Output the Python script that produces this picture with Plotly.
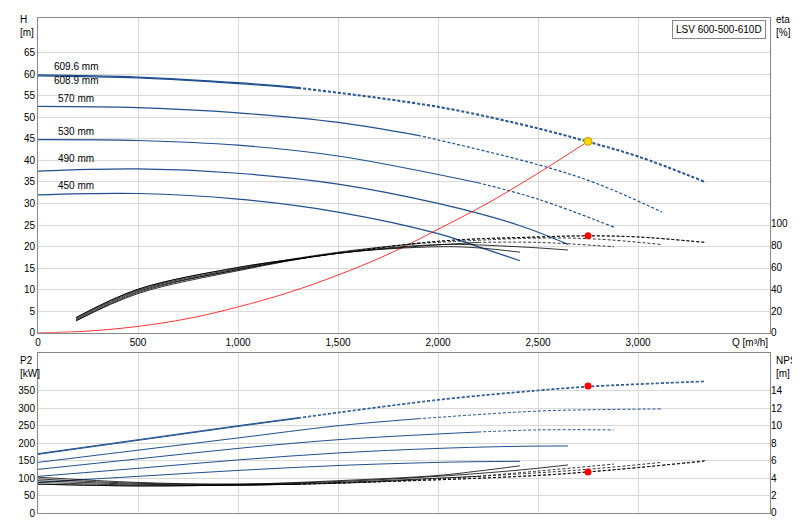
import plotly.graph_objects as go

# Head curves H(Q) per impeller diameter
labels = ["609.6 mm", "608.9 mm", "570 mm", "530 mm", "490 mm", "450 mm"]
q_pts = [
    [0, 500, 1000, 1300, 2000, 2500, 2750, 3000, 3340],
    [0, 500, 1000, 1300, 2000, 2500, 2750, 3000, 3330],
    [0, 500, 1000, 1500, 1900, 2500, 2800, 3120],
    [0, 500, 1000, 1500, 2200, 2500, 2880],
    [0, 500, 1000, 1500, 2000, 2400, 2650],
    [0, 500, 1000, 1500, 2000, 2200, 2410],
]
head = [
    [59.8, 59.3, 58.0, 56.9, 52.5, 47.5, 44.4, 41.0, 35.0],
    [59.6, 59.1, 57.8, 56.7, 52.3, 47.3, 44.2, 40.8, 35.0],
    [52.5, 52.2, 51.0, 48.8, 45.8, 39.0, 34.5, 28.0],
    [44.8, 44.6, 43.5, 41.0, 34.8, 31.0, 24.5],
    [37.5, 38.0, 37.0, 34.5, 30.0, 25.0, 20.5],
    [32.0, 32.3, 31.0, 28.0, 23.0, 20.0, 16.7],
]
dash_idx = [3, 3, 4, 4, 6, 6]  # index where dotted part starts

# Efficiency curves
eta_q = [
    [190, 500, 1000, 1300, 2000, 2500, 2750, 3000, 3340],
    [190, 500, 1000, 1300, 2000, 2500, 2750, 3000, 3330],
    [190, 500, 1000, 1500, 1900, 2500, 2800, 3120],
    [190, 500, 1000, 1500, 2200, 2500, 2880],
    [190, 500, 1000, 1500, 2000, 2400, 2650],
    [190, 500, 1000, 1500, 2000, 2200, 2410],
]
eta = [
    [14, 40, 60, 68, 84, 88, 89, 88, 83],
    [14, 40, 60, 68, 84, 88, 89, 88, 83],
    [13, 39, 59, 74, 82, 87, 86, 81],
    [12, 38, 58, 73, 83, 83, 79],
    [11, 37, 58, 73, 81, 79, 76],
    [11, 36, 57, 73, 79, 78, 74],
]

# Power P2
p2 = [
    [170, 210, 250, 273, 325, 352, 363, 370, 378],
    [168, 208, 248, 271, 323, 350, 361, 368, 376],
    [145, 180, 215, 250, 270, 292, 296, 298],
    [125, 155, 185, 210, 232, 238, 238],
    [105, 128, 152, 172, 185, 191, 192],
    [88, 105, 122, 136, 145, 147, 148],
]

# NPSH
npsh = [
    [3.3, 3.1, 3.2, 3.3, 3.8, 4.3, 4.7, 5.2, 6.0],
    [3.3, 3.1, 3.2, 3.3, 3.8, 4.3, 4.7, 5.2, 5.9],
    [3.5, 3.2, 3.2, 3.4, 3.8, 4.6, 5.1, 5.8],
    [3.7, 3.3, 3.2, 3.5, 4.2, 4.8, 5.6],
    [3.9, 3.4, 3.3, 3.6, 4.2, 4.9, 5.5],
    [4.1, 3.5, 3.3, 3.7, 4.3, 4.8, 5.4],
]

# System curve and duty point
sys_q = [0, 250, 500, 750, 1000, 1250, 1500, 1750, 2000, 2250, 2500, 2750]
sys_h = [0, 0.4, 1.5, 3.3, 6.0, 9.3, 13.4, 18.2, 24.0, 30.1, 37.0, 44.4]
duty_q, duty_h, duty_eta, duty_p2, duty_npsh = 2750, 44.4, 89, 364, 4.7

blue = "#1f4f8f"
fig = go.Figure()


def add_split(x, y, i, color, xa, ya, width=1.2):
    fig.add_trace(go.Scatter(x=x[:i + 1], y=y[:i + 1], mode="lines", line=dict(color=color, width=width, shape="spline"),
                             xaxis=xa, yaxis=ya, showlegend=False, hoverinfo="skip"))
    if i < len(x) - 1:
        fig.add_trace(go.Scatter(x=x[i:], y=y[i:], mode="lines",
                                 line=dict(color=color, width=width, dash="3px,2px", shape="spline"),
                                 xaxis=xa, yaxis=ya, showlegend=False, hoverinfo="skip"))


for k in range(len(labels)):
    add_split(q_pts[k], head[k], dash_idx[k], blue, "x", "y")
    add_split(eta_q[k], eta[k], dash_idx[k], "black", "x", "y2", 0.8)
    add_split(q_pts[k], p2[k], dash_idx[k], blue, "x2", "y3", 1)
    add_split(q_pts[k], npsh[k], dash_idx[k], "black", "x2", "y4", 0.8)

fig.add_trace(go.Scatter(x=sys_q, y=sys_h, mode="lines", line=dict(color="red", width=0.8, shape="spline"),
                         xaxis="x", yaxis="y", showlegend=False))
fig.add_trace(go.Scatter(x=[duty_q], y=[duty_h], mode="markers",
                         marker=dict(color="#ffd700", size=8, line=dict(color="#c8a000", width=1)),
                         xaxis="x", yaxis="y", showlegend=False))
for xa, ya, v in [("x", "y2", duty_eta), ("x2", "y3", duty_p2), ("x2", "y4", duty_npsh)]:
    fig.add_trace(go.Scatter(x=[duty_q], y=[v], mode="markers", marker=dict(color="red", size=7),
                             xaxis=xa, yaxis=ya, showlegend=False))

label_y = [61.8, 58.6, 54.4, 46.6, 40.4, 34.2]
label_x = [70, 70, 90, 90, 90, 90]
for t, lx, ly in zip(labels, label_x, label_y):
    fig.add_annotation(x=lx, y=ly, xref="x", yref="y", text=t, showarrow=False, xanchor="left",
                       font=dict(size=10, color="black"))

grid = "#d9d9d9"
ax = dict(showline=True, linecolor="#888", mirror=True, gridcolor=grid, zeroline=False, ticks="",
          automargin=False, tickfont=dict(size=10, color="black"))
qticks = [0, 500, 1000, 1500, 2000, 2500, 3000]
fig.update_layout(
    width=800, height=520, margin=dict(l=30, r=38, t=10, b=15),
    paper_bgcolor="white", plot_bgcolor="white",
    font=dict(family="Arial, Liberation Sans", size=10, color="black"),
    xaxis=dict(ax, domain=[0, 1], range=[0, 3660], tickvals=qticks, tickformat=",", anchor="y"),
    yaxis=dict(ax, domain=[0.364, 1], range=[0, 73], tickvals=list(range(0, 70, 5))),
    yaxis2=dict(ax, overlaying="y", side="right", range=[0, 289],
                tickvals=[0, 20, 40, 60, 80, 100], showgrid=False, showline=False),
    xaxis2=dict(ax, domain=[0, 1], range=[0, 3660], tickvals=qticks, showticklabels=False, anchor="y3"),
    yaxis3=dict(ax, domain=[0, 0.323], range=[0, 458], tickvals=list(range(0, 400, 50)), anchor="x2"),
    yaxis4=dict(ax, overlaying="y3", side="right", range=[0, 18.3], tickvals=list(range(0, 16, 2)),
                showgrid=False, showline=False, anchor="x2"),
)

anns = [
    (-0.028, 1.012, "H<br>[m]"), (1.005, 1.012, "eta<br>[%]"),
    (-0.028, 0.323, "P2<br>[kW]"), (1.005, 0.323, "NPSH<br>[m]"),
]
for x, y, t in anns:
    fig.add_annotation(x=x, y=y, xref="paper", yref="paper", text=t, showarrow=False,
                       xanchor="left", yanchor="top", align="left", font=dict(size=10))
fig.add_annotation(x=1.0, y=0.364, xref="paper", yref="paper", text="Q [m³/h]", showarrow=False,
                   xanchor="right", yanchor="top", yshift=-2, font=dict(size=10))
fig.add_annotation(x=0.995, y=0.995, xref="paper", yref="paper", text="LSV 600-500-610D", showarrow=False,
                   xanchor="right", yanchor="top", bordercolor="#888", borderwidth=1, bgcolor="white",
                   borderpad=3, font=dict(size=10))

fig.write_html("out.html")
